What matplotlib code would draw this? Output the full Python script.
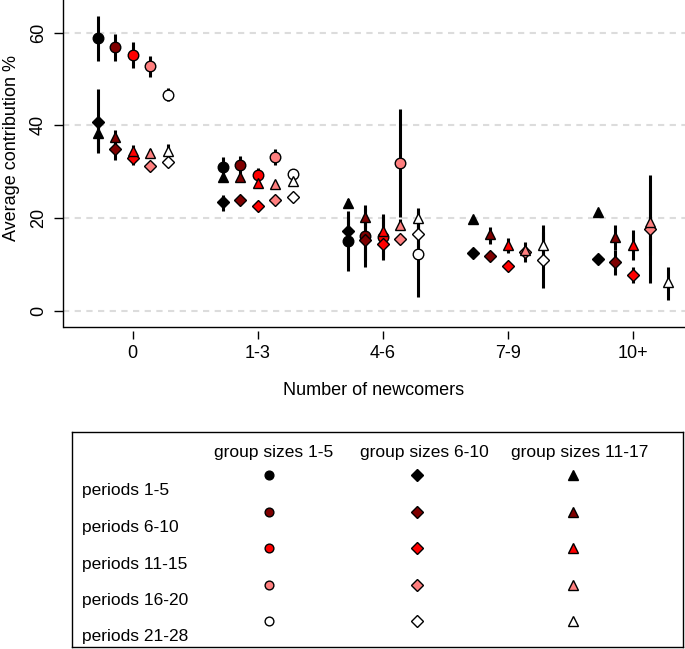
import numpy as np
import matplotlib
matplotlib.use("Agg")
import matplotlib.pyplot as plt

plt.rcParams['font.family'] = ['Liberation Sans', 'DejaVu Sans']

# ---------------- data ----------------
categories = ["0", "1-3", "4-6", "7-9", "10+"]
periods = ["periods 1-5", "periods 6-10", "periods 11-15", "periods 16-20", "periods 21-28"]
group_sizes = ["group sizes 1-5", "group sizes 6-10", "group sizes 11-17"]
period_colors = ["#000000", "#7F0000", "#FF0000", "#FF7F7F", "#FFFFFF"]
group_markers = ["o", "D", "^"]
nan = np.nan

# group sizes 1-5 (circles): rows = periods, columns = categories
small_mean = [[58.8, 31.1, 15.1, nan, nan],
              [56.9, 31.4, 16.1, nan, nan],
              [55.2, 29.3, 16.0, nan, nan],
              [52.7, 33.2, 31.9, nan, nan],
              [46.5, 29.5, 12.2, nan, nan]]
small_lo = [[53.8, 29.0, 8.6, nan, nan],
            [53.9, 29.5, 9.4, nan, nan],
            [52.3, 27.8, 11.5, nan, nan],
            [50.5, 31.4, 20.3, nan, nan],
            [45.3, 28.8, 3.0, nan, nan]]
small_hi = [[63.6, 33.2, 21.6, nan, nan],
            [59.8, 33.4, 22.0, nan, nan],
            [58.0, 30.9, 20.5, nan, nan],
            [55.0, 34.8, 43.5, nan, nan],
            [48.0, 30.2, 21.4, nan, nan]]

# group sizes 6-10 (diamonds)
mid_mean = [[40.8, 23.4, 17.3, 12.4, 11.1],
            [34.9, 23.8, 15.3, 11.8, 10.4],
            [33.0, 22.6, 14.4, 9.7, 7.7],
            [31.2, 23.9, 15.4, 12.6, 17.6],
            [32.1, 24.6, 16.5, 10.9, nan]]
mid_lo = [[34.5, 21.6, 14.0, 11.8, 10.6],
          [32.5, 23.0, 11.0, 11.2, 7.7],
          [31.4, 22.0, 10.9, 9.2, 5.9],
          [30.5, 23.3, 14.5, 10.6, 6.0],
          [31.5, 24.0, 13.5, 4.8, nan]]
mid_hi = [[47.8, 25.0, 20.5, 13.0, 11.6],
          [37.0, 24.6, 19.5, 12.4, 13.0],
          [34.5, 23.2, 18.0, 10.2, 9.5],
          [32.0, 24.5, 16.3, 13.8, 29.3],
          [32.7, 25.2, 19.5, 17.0, nan]]

# group sizes 11-17 (triangles)
large_mean = [[38.4, 28.8, 23.2, 19.7, 21.2],
              [37.5, 28.8, 20.3, 16.5, 16.0],
              [34.5, 27.5, 17.3, 14.1, 14.2],
              [34.0, 27.3, 18.6, 13.1, 19.2],
              [34.5, 28.0, 19.9, 14.1, 6.1]]
large_lo = [[34.0, 27.8, 22.2, 19.0, 20.4],
            [35.5, 28.0, 17.8, 14.4, 13.0],
            [33.0, 26.8, 14.5, 12.4, 11.0],
            [33.0, 26.6, 17.5, 11.5, 12.0],
            [33.5, 27.3, 17.7, 12.0, 2.3]]
large_hi = [[42.0, 30.0, 24.2, 20.4, 22.0],
            [39.0, 29.6, 22.8, 18.1, 18.5],
            [35.7, 28.2, 20.9, 15.6, 17.4],
            [35.0, 28.0, 19.7, 14.9, 26.0],
            [35.9, 28.8, 22.1, 18.5, 9.5]]

y_ticks = [0, 20, 40, 60]

# ---------------- layout ----------------
W, H = 685, 649
fig = plt.figure(figsize=(W / 100, H / 100), dpi=100)
ax = fig.add_axes([63 / W, 1 - 327 / H, 622 / W, 327 / H])

series = [(small_mean, small_lo, small_hi),
          (mid_mean, mid_lo, mid_hi),
          (large_mean, large_lo, large_hi)]
marker_sizes = {"o": 7.6, "D": 6.3, "^": 7.8}
offset_step = 0.14
xbase = np.arange(1, len(categories) + 1)

for gi, (m, lo, hi) in enumerate(series):
    for pi in range(len(periods)):
        xs = xbase + (pi - 2) * offset_step
        ax.vlines(xs, np.array(lo[pi]), np.array(hi[pi]), color="black",
                  lw=2.2, zorder=2)

for pi in range(len(periods)):
    xs = xbase + (pi - 2) * offset_step
    for gi, (m, lo, hi) in enumerate(series):
        mk = group_markers[gi]
        ax.plot(xs, m[pi], linestyle="none", marker=mk,
                markersize=marker_sizes[mk], markerfacecolor=period_colors[pi],
                markeredgecolor="black", markeredgewidth=1.0, zorder=3)

for yv in y_ticks:
    ax.axhline(yv, color="#DCDCDC", lw=1.5, dashes=(3, 2.6), zorder=1)

ax.set_xlim(0.442, 5.418)
ax.set_ylim(-3.52, 67.05)
ax.set_xticks(xbase)
ax.set_xticklabels(categories)
ax.set_yticks(y_ticks)
ax.set_yticklabels([str(v) for v in y_ticks], rotation=90, va="center")

for s in ["top", "right"]:
    ax.spines[s].set_visible(False)
ax.spines["left"].set_linewidth(1.0)
ax.spines["bottom"].set_visible(False)
ax.spines["bottom"].set_position(("outward", 3))
ax.plot([0, 1], [0, 0], transform=ax.transAxes, color="black", lw=1.0,
        clip_on=False, solid_capstyle="butt", zorder=4)

ax.tick_params(axis="y", length=6.5, width=1.0, pad=5, labelsize=13)
ax.tick_params(axis="x", length=6.0, width=1.0, pad=4, labelsize=13)

ax.set_ylabel("Average contribution %", fontsize=13)
ax.yaxis.set_label_coords(-0.082, 0.547)
ax.yaxis.label.set_va("center")
ax.set_xlabel("Number of newcomers", fontsize=13)
ax.xaxis.set_label_coords(0.5, -0.193)
ax.xaxis.label.set_va("center")

# ---------------- legend panel ----------------
lx0, lx1, ly0, ly1 = 72, 683, 432, 647
lax = fig.add_axes([lx0 / W, 1 - ly1 / H, (lx1 - lx0) / W, (ly1 - ly0) / H])
lax.set_xlim(0, lx1 - lx0)
lax.set_ylim(ly1 - ly0, 0)
lax.set_xticks([])
lax.set_yticks([])
for s in lax.spines.values():
    s.set_linewidth(1.0)

header_x = [202, 352, 508]
marker_x = [197, 345, 501]
header_y = 21
row_y0, row_step, label_dy = 43, 36.5, 16
legend_ms = {"o": 6.3, "D": 5.8, "^": 6.8}

for gi, name in enumerate(group_sizes):
    lax.text(header_x[gi], header_y, name, ha="center", va="center", fontsize=12.5)
for pi, pname in enumerate(periods):
    ry = row_y0 + pi * row_step
    lax.text(10, ry + label_dy, pname, ha="left", va="center", fontsize=12.5)
    for gi in range(len(group_sizes)):
        mk = group_markers[gi]
        lax.plot([marker_x[gi]], [ry], linestyle="none", marker=mk,
                 markersize=legend_ms[mk], markerfacecolor=period_colors[pi],
                 markeredgecolor="black", markeredgewidth=1.0)

fig.savefig("out.png", dpi=100)
